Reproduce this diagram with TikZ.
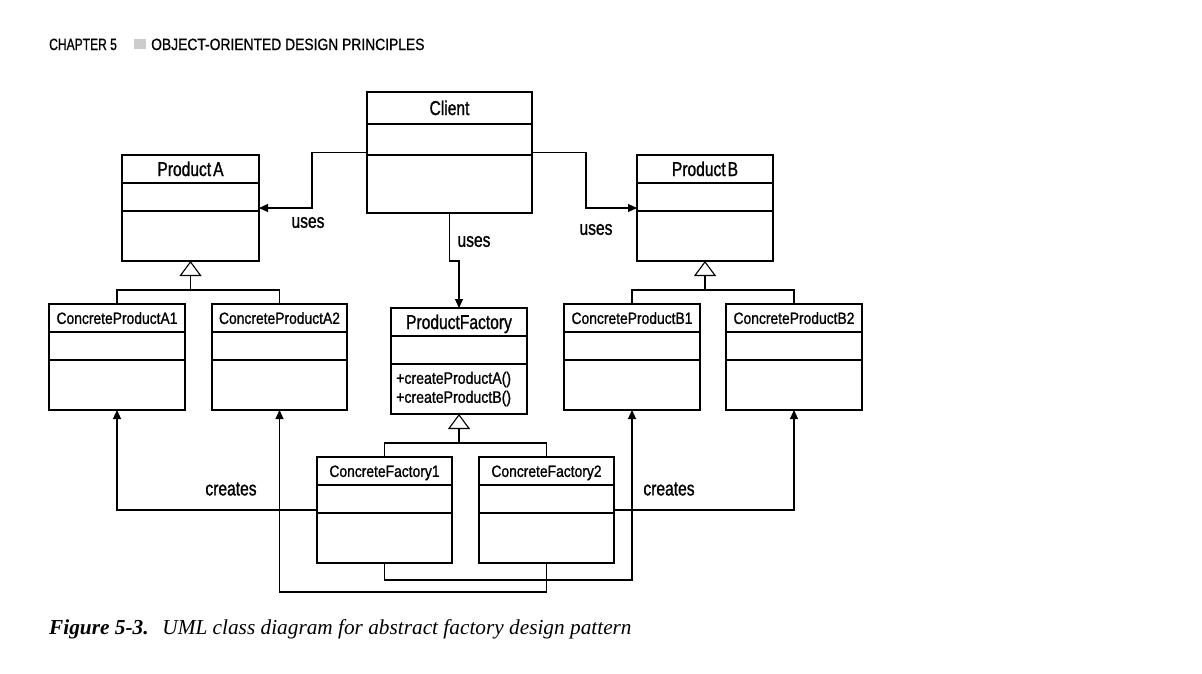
\documentclass[tikz,border=0pt]{standalone}
\usepackage{fontspec}
\setmainfont{Liberation Sans}[FakeStretch=0.85]
\newfontfamily\fbig{Liberation Sans}[FakeStretch=0.78,FakeBold=1.1]
\newfontfamily\fsmall{Liberation Sans}[FakeStretch=0.85,FakeBold=1.0]
\newfontfamily\hdA{Liberation Sans}[FakeStretch=0.74,FakeBold=0.8]
\newfontfamily\hdB{Liberation Sans}[FakeStretch=0.85,FakeBold=0.8]
\newfontfamily\capfont{Liberation Serif}
\usetikzlibrary{arrows.meta,calc}
\tikzset{
  classbox/.style={draw, line width=1.1pt, inner sep=0pt, outer sep=0pt},
  sepline/.style={line width=1.1pt},
  bigtxt/.style={font=\fbig\fontsize{20}{22}\selectfont, inner sep=0pt, anchor=base, yshift=-7pt},
  smalltxt/.style={font=\fsmall\fontsize{16.3}{18}\selectfont, inner sep=0pt, anchor=base, yshift=-5.9pt},
  lbl/.style={font=\fbig\fontsize{20}{22}\selectfont, inner sep=0pt},
  conn/.style={line width=1.1pt},
  arr/.style={conn, -{Triangle[length=9pt,width=8pt]}},
  inh/.style={conn, -{Triangle[open,length=15pt,width=22pt,line width=1.1pt]}},
}
\newcommand\umlclass[9]{%
  \node[classbox, minimum width={(#4-#2)*1pt}, minimum height={(#5-#3)*1pt}, anchor=north west] (#1) at (#2,#3) {};
  \draw[sepline] (#2,#6) -- (#4,#6);
  \draw[sepline] (#2,#7) -- (#4,#7);
  \node[#9] (#1-title) at ({(#2+#4)/2},{(#3+#6)/2}) {#8};
}
\begin{document}
\begin{tikzpicture}[x=1pt,y=-1pt]
\useasboundingbox[fill=white] (0,0) rectangle (1202,673);
% header
\node[anchor=base west, inner sep=0pt, font=\hdA\fontsize{16.3}{18}\selectfont] (hd1) at (49,50) {CHAPTER 5};
\node[fill=black!20, minimum width=12pt, minimum height=10pt, inner sep=0pt, anchor=south west] (hdsq) at (134,49.5) {};
\node[anchor=base west, inner sep=0pt, font=\hdB\fontsize{16.3}{18}\selectfont] (hd2) at (151,50) {OBJECT-ORIENTED DESIGN PRINCIPLES};
% classes
\umlclass{Client}{367}{92}{532}{213}{124}{155}{Client}{bigtxt}
\umlclass{PA}{122}{155}{259}{261}{183}{211}{Product\kern2pt A}{bigtxt}
\umlclass{PB}{637}{155}{773}{261}{183}{211}{Product\kern2pt B}{bigtxt}
\umlclass{CPA1}{49}{304}{185}{410}{332}{360}{ConcreteProductA1}{smalltxt}
\umlclass{CPA2}{212}{304}{347}{410}{332}{360}{ConcreteProductA2}{smalltxt}
\umlclass{CPB1}{564}{304}{700}{410}{332}{360}{ConcreteProductB1}{smalltxt}
\umlclass{CPB2}{726}{304}{862}{410}{332}{360}{ConcreteProductB2}{smalltxt}
\umlclass{PF}{391}{308}{527}{414}{336}{364}{ProductFactory}{bigtxt}
\umlclass{CF1}{317}{457}{452}{563}{485}{513}{ConcreteFactory1}{smalltxt}
\umlclass{CF2}{479}{457}{614}{563}{485}{513}{ConcreteFactory2}{smalltxt}
\node[anchor=west, align=left, inner sep=0pt, font=\fsmall\fontsize{16.6}{19}\selectfont] (PFops) at (396,389) {+createProductA()\\+createProductB()};
% inheritance
\coordinate (jA) at (190.5,290);
\coordinate (jB) at (705,290);
\coordinate (jF) at (459,443);
\draw[conn] (CPA1.north) |- (jA) -| (CPA2.north);
\draw[inh] (jA) -- (PA.south);
\draw[conn] (CPB1.north) |- (jB) -| (CPB2.north);
\draw[inh] (jB) -- (PB.south);
\draw[conn] (CF1.north) |- (jF) -| (CF2.north);
\draw[inh] (jF) -- (PF.south);
% uses
\coordinate (uA) at (312,0);
\coordinate (uB) at (586,0);
\draw[arr] (Client.west) -| (uA |- PA.east) -- (PA.east);
\draw[arr] (Client.east) -| (uB |- PB.west) -- (PB.west);
\draw[arr] (Client.south) -- ++(0,48) -| (PF.north);
\node[lbl] (l1) at (308,222.5) {uses};
\node[lbl] (l2) at (474,241.5) {uses};
\node[lbl] (l3) at (596,229.5) {uses};
% creates
\draw[arr] (CF1.west) -| (CPA1.south);
\draw[arr] (CF2.east) -| (CPB2.south);
\draw[arr] (CF1.south) -- ++(0,17) -| (CPB1.south);
\draw[arr] (CF2.south) -- ++(0,29) -| (CPA2.south);
\node[lbl] (l4) at (231,489) {creates};
\node[lbl] (l5) at (669,489) {creates};
% caption
\node[anchor=base west, inner sep=0pt, font=\capfont\fontsize{21.3}{23}\selectfont] (cap) at (49,634) {\textbf{\textit{Figure 5-3.}}\hspace{0.65em}\textit{UML class diagram for abstract factory design pattern}};
\end{tikzpicture}
\end{document}
